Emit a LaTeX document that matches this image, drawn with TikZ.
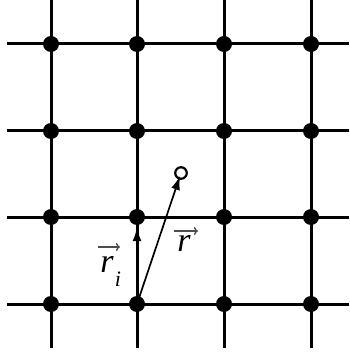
\documentclass[tikz,border=0pt]{standalone}
\usepackage{fontspec}
\setmainfont{Liberation Serif}
\newfontfamily\timesfont{Liberation Serif}
\usetikzlibrary{arrows.meta}
\begin{document}
\begin{tikzpicture}[x=1pt,y=-1pt,
  gridline/.style={line width=3pt,black},
  latdot/.style={circle,fill=black,inner sep=0pt,minimum size=16pt},
  opendot/.style={circle,draw=black,line width=2.2pt,inner sep=0pt,minimum size=11.5pt},
  vec/.style={line width=1.7pt,-{Latex[length=14pt,width=9pt]}},
  lbl/.style={inner sep=0pt,font=\timesfont\itshape\fontsize{34}{34}\selectfont},
  sublbl/.style={inner sep=0pt,font=\timesfont\itshape\fontsize{22}{22}\selectfont},
  overarr/.style={line width=1.3pt,black!70,-{To[length=4pt,width=8pt]}}]
\useasboundingbox (0,0) rectangle (349,352);
% grid lines
\foreach \x in {51,137,224,311} \draw[gridline] (\x,0) -- (\x,348);
\foreach \y in {44,131,217,304} \draw[gridline] (7,\y) -- (349,\y);
% lattice points
\foreach \x/\i in {51/0,137/1,224/2,311/3}
  \foreach \y/\j in {304/0,217/1,131/2,44/3}
    \node[latdot] (d\i\j) at (\x,\y) {};
% open point
\node[opendot] (c) at (181,173) {};
% vectors
\draw[vec] (d10.center) -- ([yshift=-2pt]d11.south);
\draw[vec,shorten >=3pt] (d10.center) -- (c.center);
% labels
\node[lbl,anchor=base] (rilbl) at (107,272) {r};
\node[sublbl,anchor=base] (ilbl) at (118,286) {i};
\coordinate (ria) at (98,247);
\coordinate (rib) at (120,247);
\draw[overarr] (ria) -- (rib);
\node[lbl,anchor=base] (rlbl) at (184,251) {r};
\coordinate (ra) at (174,231);
\coordinate (rb) at (198,231);
\draw[overarr] (ra) -- (rb);
\end{tikzpicture}
\end{document}
